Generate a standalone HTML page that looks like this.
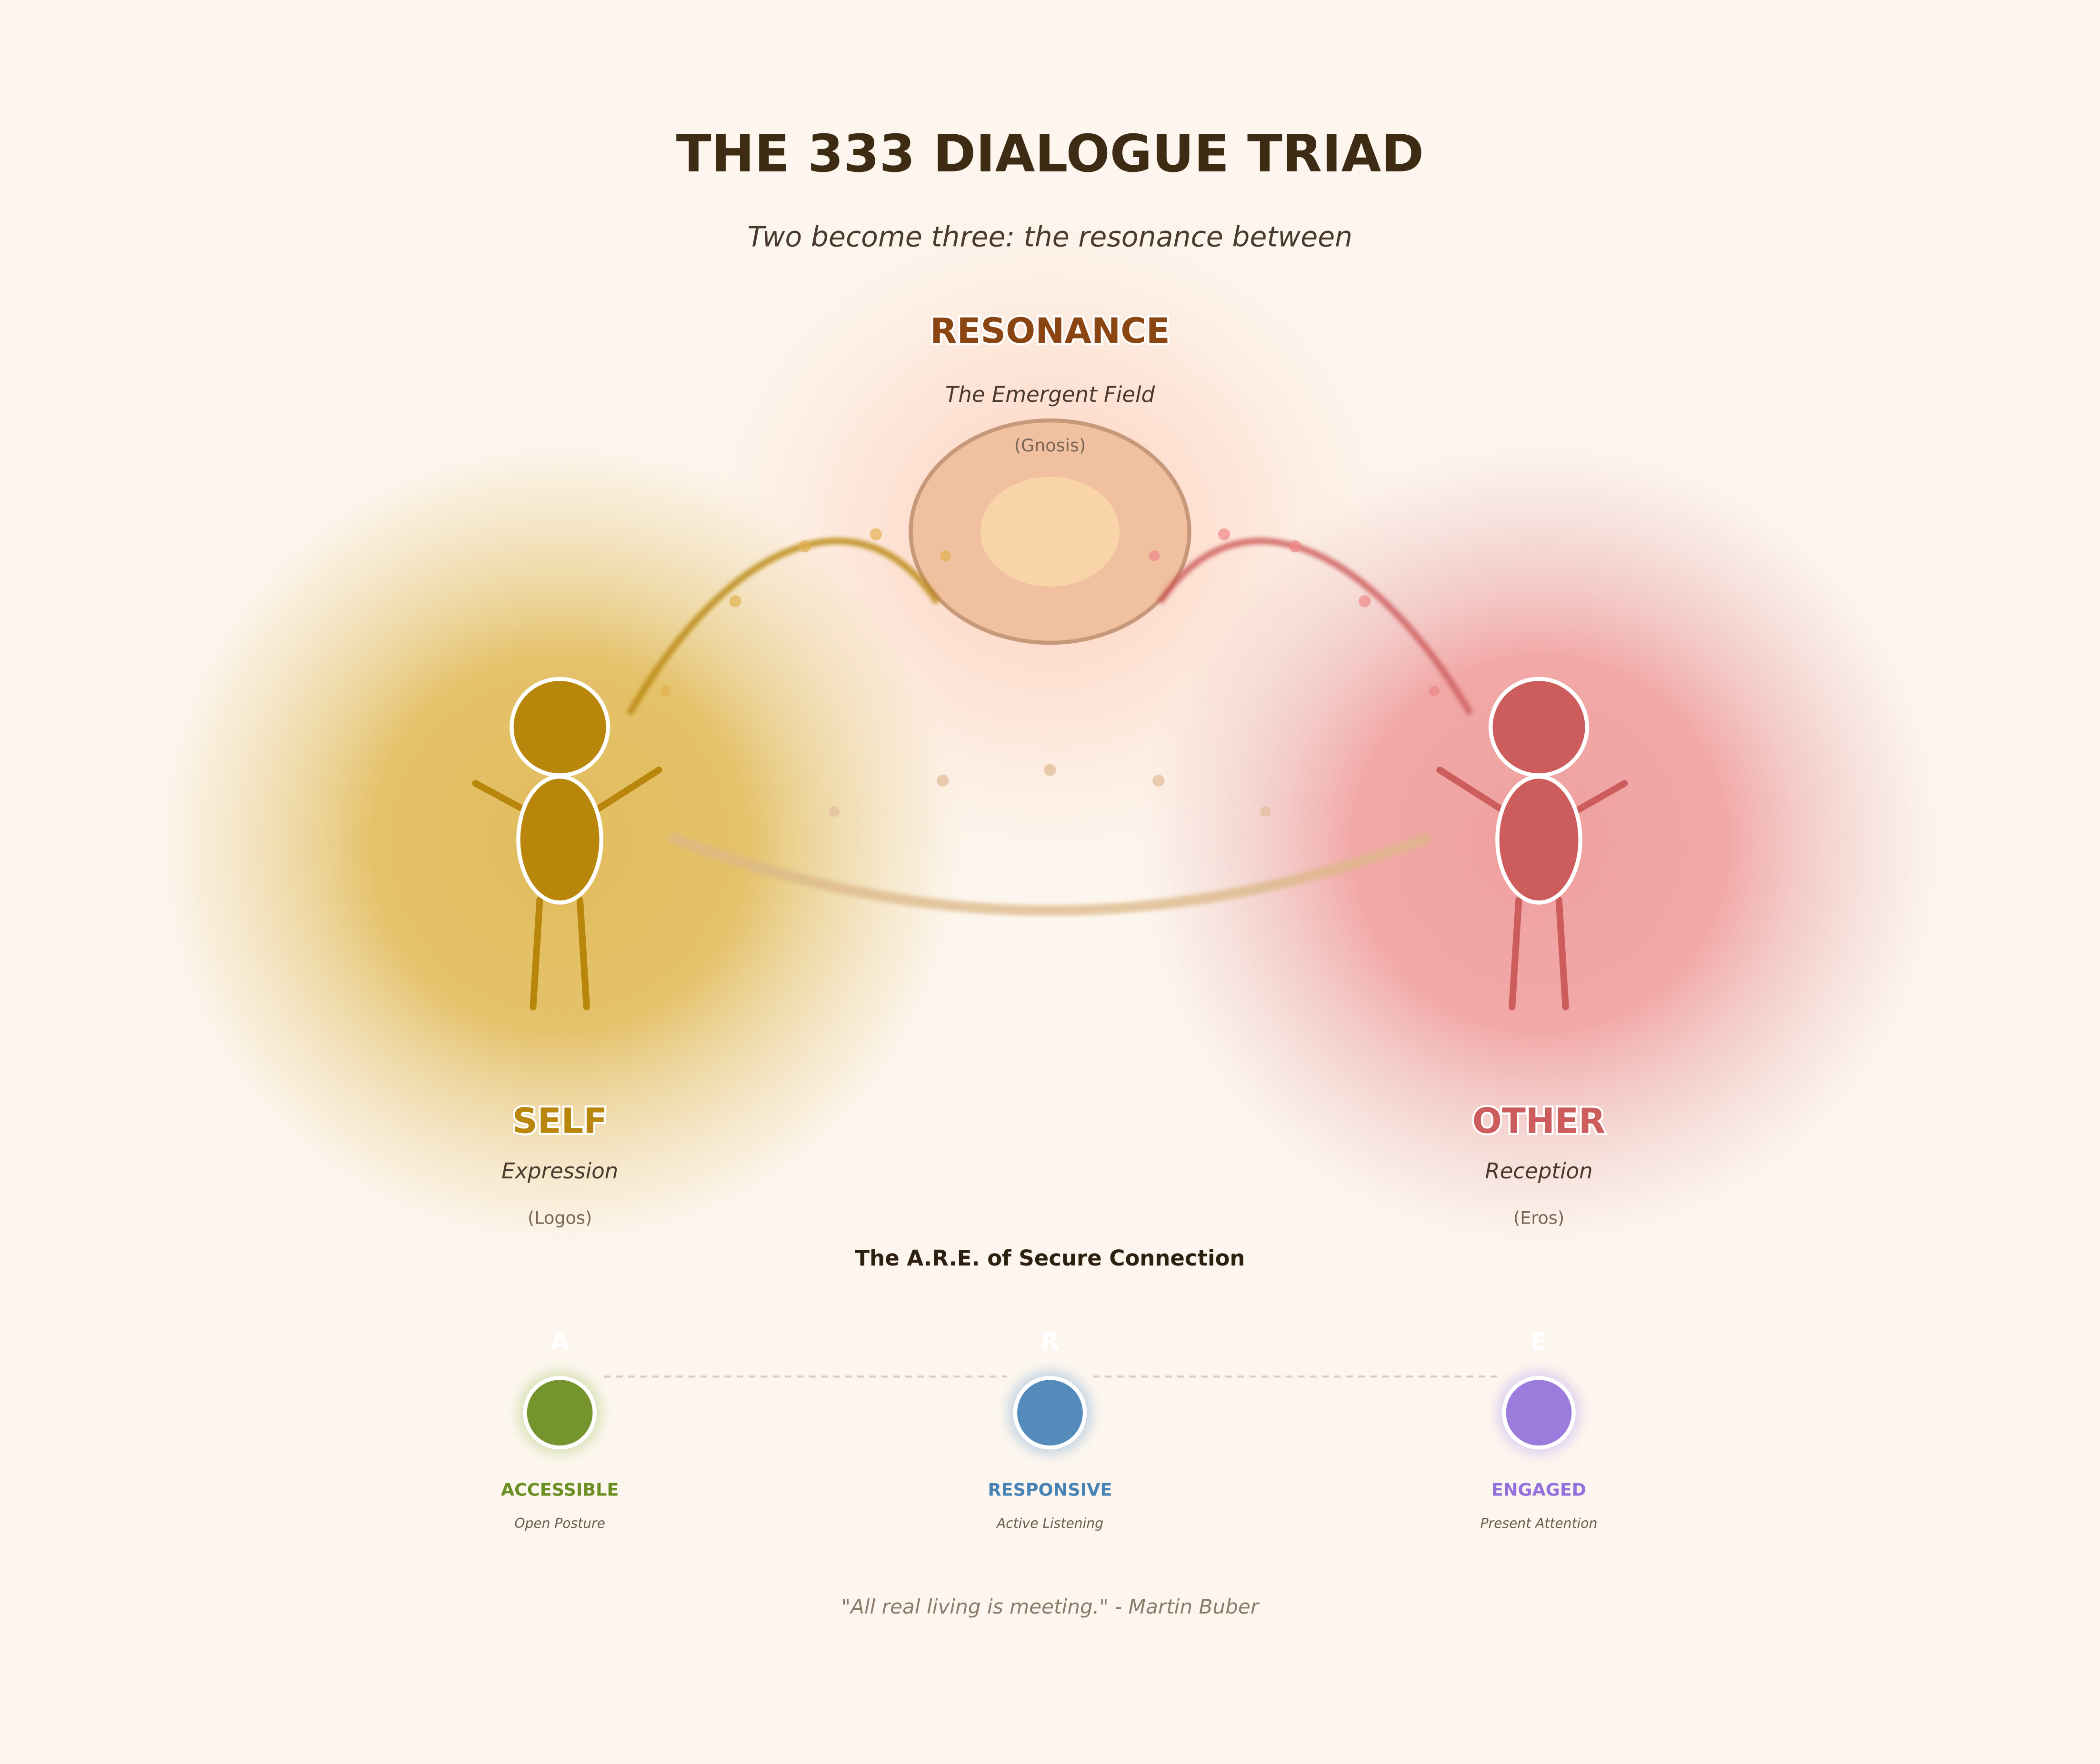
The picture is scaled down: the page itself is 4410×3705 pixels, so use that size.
<!DOCTYPE html>
<html><head><meta charset="utf-8"><style>
html,body{margin:0;padding:0;background:#fdf6ee;}
svg{display:block;}
text{font-family:"DejaVu Sans","Liberation Sans",sans-serif;}
</style></head><body>
<svg width="4410" height="3705" viewBox="0 0 1568 1317.33" xmlns="http://www.w3.org/2000/svg">
<defs>
<radialGradient id="gs" cx="50%" cy="50%" r="50%">
<stop offset="0" stop-color="#e2bc5c"/><stop offset="0.45" stop-color="#e2bc5c" stop-opacity="0.9"/><stop offset="0.7" stop-color="#e8cc88" stop-opacity="0.55"/><stop offset="0.88" stop-color="#efdcb0" stop-opacity="0.3"/><stop offset="1" stop-color="#fdf6ee" stop-opacity="0"/></radialGradient>
<radialGradient id="go" cx="50%" cy="50%" r="50%">
<stop offset="0" stop-color="#f0a0a0"/><stop offset="0.45" stop-color="#f0a0a0" stop-opacity="0.9"/><stop offset="0.7" stop-color="#eebbbb" stop-opacity="0.55"/><stop offset="0.88" stop-color="#f2d4d0" stop-opacity="0.3"/><stop offset="1" stop-color="#fdf6ee" stop-opacity="0"/></radialGradient>
<radialGradient id="gr" cx="50%" cy="50%" r="50%">
<stop offset="0" stop-color="#fcc8b4" stop-opacity="0.95"/><stop offset="0.5" stop-color="#fde0d0" stop-opacity="0.65"/><stop offset="1" stop-color="#fdf6ee" stop-opacity="0"/></radialGradient>
<filter id="blur"><feGaussianBlur stdDeviation="1.5"/></filter>
<filter id="glow"><feGaussianBlur stdDeviation="4"/></filter>
</defs>
<rect width="1568" height="1318" fill="#fdf6ee"/>
<ellipse cx="784" cy="400" rx="310" ry="290" fill="url(#gr)"/>
<ellipse cx="418" cy="630" rx="310" ry="310" fill="url(#gs)"/>
<ellipse cx="1150" cy="630" rx="310" ry="310" fill="url(#go)"/>

<text x="784" y="128" text-anchor="middle" font-size="38.5" font-weight="bold" fill="#3d2b14">THE 333 DIALOGUE TRIAD</text>
<text x="784" y="184" text-anchor="middle" font-size="20.8" font-style="italic" fill="#4a3a2e">Two become three: the resonance between</text>

<ellipse cx="784" cy="397" rx="104" ry="83" fill="#f0c0a0" stroke="#c8987a" stroke-width="3"/>
<ellipse cx="784" cy="397" rx="52" ry="41" fill="#f8d4a8"/>
<text x="784" y="256" text-anchor="middle" font-size="26" font-weight="bold" fill="#8b4513" stroke="#fff" stroke-width="3" paint-order="stroke">RESONANCE</text>
<text x="784" y="300" text-anchor="middle" font-size="16" font-style="italic" fill="#4a3a2e">The Emergent Field</text>
<text x="784" y="337" text-anchor="middle" font-size="13" fill="#7a6555">(Gnosis)</text>

<path d="M470,533 C540,410 640,360 700,450" fill="none" stroke="#b8860b" stroke-width="5" opacity="0.8" filter="url(#blur)"/>
<path d="M866,450 C926,360 1026,410 1098,533" fill="none" stroke="#cd5c5c" stroke-width="5" opacity="0.8" filter="url(#blur)"/>
<path d="M500,625 Q784,735 1068,625" fill="none" stroke="#dcb888" stroke-width="8" opacity="0.75" filter="url(#blur)"/>

<g fill="#e2b050" opacity="0.7"><circle cx="497" cy="516" r="4"/><circle cx="549" cy="449" r="4.5"/><circle cx="601" cy="408" r="4.5"/><circle cx="654" cy="399" r="4.5"/><circle cx="706" cy="415" r="4"/></g>
<g fill="#f08888" opacity="0.7"><circle cx="862" cy="415" r="4"/><circle cx="914" cy="399" r="4.5"/><circle cx="967" cy="408" r="4.5"/><circle cx="1019" cy="449" r="4.5"/><circle cx="1071" cy="516" r="4"/></g>
<g fill="#e4c0a0" opacity="0.8"><circle cx="623" cy="606" r="4"/><circle cx="704" cy="583" r="4.5"/><circle cx="784" cy="575" r="4.5"/><circle cx="865" cy="583" r="4.5"/><circle cx="945" cy="606" r="4"/></g>

<g stroke="#b8860b" stroke-width="5" stroke-linecap="round">
<line x1="355" y1="585" x2="392" y2="605"/><line x1="445" y1="605" x2="492" y2="575"/>
<line x1="403" y1="672" x2="398" y2="752"/><line x1="433" y1="672" x2="438" y2="752"/></g>
<circle cx="418" cy="543" r="36" fill="#b8860b" stroke="#fff" stroke-width="3"/>
<ellipse cx="418" cy="627" rx="31" ry="47" fill="#b8860b" stroke="#fff" stroke-width="3"/>

<g stroke="#cd5c5c" stroke-width="5" stroke-linecap="round">
<line x1="1075" y1="575" x2="1122" y2="605"/><line x1="1178" y1="605" x2="1213" y2="585"/>
<line x1="1134" y1="672" x2="1129" y2="752"/><line x1="1164" y1="672" x2="1169" y2="752"/></g>
<circle cx="1149" cy="543" r="36" fill="#cd5c5c" stroke="#fff" stroke-width="3"/>
<ellipse cx="1149" cy="627" rx="31" ry="47" fill="#cd5c5c" stroke="#fff" stroke-width="3"/>

<text x="418" y="846" text-anchor="middle" font-size="26" font-weight="bold" fill="#b8860b" stroke="#fff" stroke-width="3" paint-order="stroke">SELF</text>
<text x="418" y="880" text-anchor="middle" font-size="16" font-style="italic" fill="#4a3a2e">Expression</text>
<text x="418" y="914" text-anchor="middle" font-size="13" fill="#7a6555">(Logos)</text>
<text x="1149" y="846" text-anchor="middle" font-size="26" font-weight="bold" fill="#cd5c5c" stroke="#fff" stroke-width="3" paint-order="stroke">OTHER</text>
<text x="1149" y="880" text-anchor="middle" font-size="16" font-style="italic" fill="#4a3a2e">Reception</text>
<text x="1149" y="914" text-anchor="middle" font-size="13" fill="#7a6555">(Eros)</text>

<text x="784" y="945" text-anchor="middle" font-size="16" font-weight="bold" fill="#2e2010">The A.R.E. of Secure Connection</text>

<line x1="451" y1="1028" x2="752" y2="1028" stroke="#d8ccbc" stroke-width="1.5" stroke-dasharray="5,4"/>
<line x1="816" y1="1028" x2="1118" y2="1028" stroke="#d8ccbc" stroke-width="1.5" stroke-dasharray="5,4"/>

<circle cx="418" cy="1055" r="32" fill="#c8d8a0" opacity="0.6" filter="url(#glow)"/>
<circle cx="784" cy="1055" r="32" fill="#a8c4e0" opacity="0.6" filter="url(#glow)"/>
<circle cx="1149" cy="1055" r="32" fill="#d0c0f0" opacity="0.6" filter="url(#glow)"/>
<circle cx="418" cy="1055" r="26" fill="#76942e" stroke="#fff" stroke-width="3"/>
<circle cx="784" cy="1055" r="26" fill="#548bba" stroke="#fff" stroke-width="3"/>
<circle cx="1149" cy="1055" r="26" fill="#9b7bdb" stroke="#fff" stroke-width="3"/>
<g font-size="18" font-weight="bold" fill="#fff" text-anchor="middle">
<text x="418" y="1008">A</text><text x="784" y="1008">R</text><text x="1149" y="1008">E</text></g>

<text x="418" y="1117" text-anchor="middle" font-size="13" font-weight="bold" fill="#6b8e23">ACCESSIBLE</text>
<text x="784" y="1117" text-anchor="middle" font-size="13" font-weight="bold" fill="#4682b4">RESPONSIVE</text>
<text x="1149" y="1117" text-anchor="middle" font-size="13" font-weight="bold" fill="#9370db">ENGAGED</text>
<g font-size="10" font-style="italic" fill="#6a5a4a" text-anchor="middle">
<text x="418" y="1141">Open Posture</text><text x="784" y="1141">Active Listening</text><text x="1149" y="1141">Present Attention</text></g>

<text x="784" y="1205" text-anchor="middle" font-size="15" font-style="italic" fill="#8a7a6a">"All real living is meeting." - Martin Buber</text>
</svg>
</body></html>
